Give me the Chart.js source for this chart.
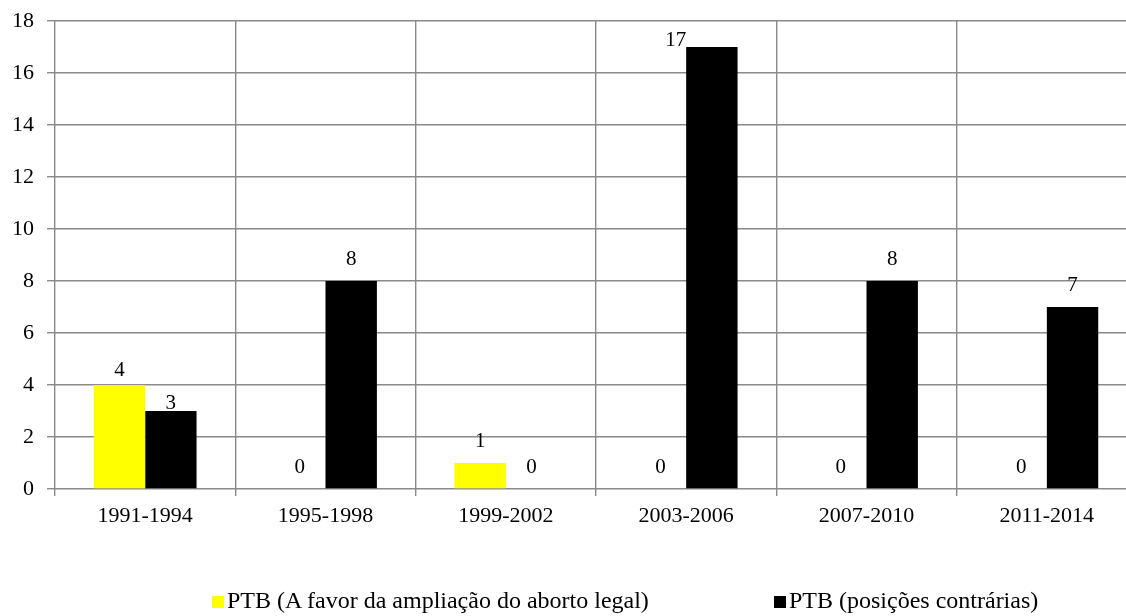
<!DOCTYPE html>
<html>
<head>
<meta charset="utf-8">
<script src="https://cdn.jsdelivr.net/npm/chart.js@4/dist/chart.umd.min.js"></script>
<style>
  html, body { margin: 0; padding: 0; background: #fff; overflow: hidden; width: 1126px; height: 616px; }
  #wrap { position: absolute; left: 0; top: 0; width: 1137px; height: 616px; }
  .leg { position: absolute; font-family: "Liberation Serif", "Times New Roman", serif; font-size: 24px; color: #000; white-space: nowrap; line-height: 26px; }
  .sw { display: inline-block; width: 12px; height: 12px; margin-right: 3px; vertical-align: 0px; }
</style>
</head>
<body>
<div id="wrap"><canvas id="c" width="1137" height="616"></canvas></div>
<div class="leg" style="left:212px; top:587px;"><span class="sw" style="background:#FFFF00"></span><span id="l1"></span></div>
<div class="leg" style="left:774px; top:587px;"><span class="sw" style="background:#000000"></span><span id="l2"></span></div>
<script>
const categories = ["1991-1994", "1995-1998", "1999-2002", "2003-2006", "2007-2010", "2011-2014"];
const seriesNames = ["PTB (A favor da ampliação do aborto legal)", "PTB (posições contrárias)"];
const favorValues = [4, 0, 1, 0, 0, 0];
const contraValues = [3, 8, 0, 17, 8, 7];
const seriesColors = ["#FFFF00", "#000000"];

document.getElementById('l1').textContent = seriesNames[0];
document.getElementById('l2').textContent = seriesNames[1];

const FONT = "'Liberation Serif', 'Times New Roman', serif";
const GRID = "#8a8a8a";

const labelPlugin = {
  id: 'valueLabels',
  afterDatasetsDraw(chart, args, opts) {
    const ctx = chart.ctx;
    ctx.save();
    ctx.font = "21px " + FONT;
    ctx.fillStyle = "#000";
    ctx.textAlign = "center";
    ctx.textBaseline = "middle";
    chart.data.datasets.forEach((ds, di) => {
      const meta = chart.getDatasetMeta(di);
      meta.data.forEach((bar, i) => {
        const shift = (opts.shifts || {})[di + '-' + i] || [0, 0];
        ctx.fillText(String(ds.data[i]), bar.x + shift[0], bar.y - 22 + shift[1]);
      });
    });
    ctx.restore();
  }
};

new Chart(document.getElementById('c'), {
  type: 'bar',
  data: {
    labels: categories,
    datasets: [
      { label: seriesNames[0], data: favorValues, backgroundColor: seriesColors[0], borderWidth: 0 },
      { label: seriesNames[1], data: contraValues, backgroundColor: seriesColors[1], borderWidth: 0 }
    ]
  },
  options: {
    responsive: false,
    animation: false,
    events: [],
    layout: { padding: { top: 21, right: 0, bottom: 0, left: 0 } },
    datasets: { bar: { categoryPercentage: 0.57, barPercentage: 1.0 } },
    plugins: {
      legend: { display: false },
      tooltip: { enabled: false },
      valueLabels: { shifts: { '0-0': [0, 7], '1-0': [0, 14], '1-3': [-36, 15] } }
    },
    scales: {
      x: {
        offset: true,
        grid: { offset: true, color: GRID, lineWidth: 1.4, tickLength: 7, drawTicks: true, tickColor: GRID },
        border: { display: false },
        ticks: { font: { family: FONT, size: 22 }, color: "#000", padding: 7, maxRotation: 0 },
        afterFit(scale) { scale.height = 127; scale.paddingLeft = 0; scale.paddingRight = 0; }
      },
      y: {
        min: 0, max: 18,
        ticks: { stepSize: 2, font: { family: FONT, size: 22 }, color: "#000", padding: 13 },
        grid: { color: GRID, lineWidth: 1.4, tickLength: 8, tickColor: GRID },
        border: { display: false },
        afterFit(scale) { scale.width = 55; scale.paddingTop = 0; scale.paddingBottom = 0; }
      }
    }
  },
  plugins: [labelPlugin]
});
</script>
</body>
</html>
